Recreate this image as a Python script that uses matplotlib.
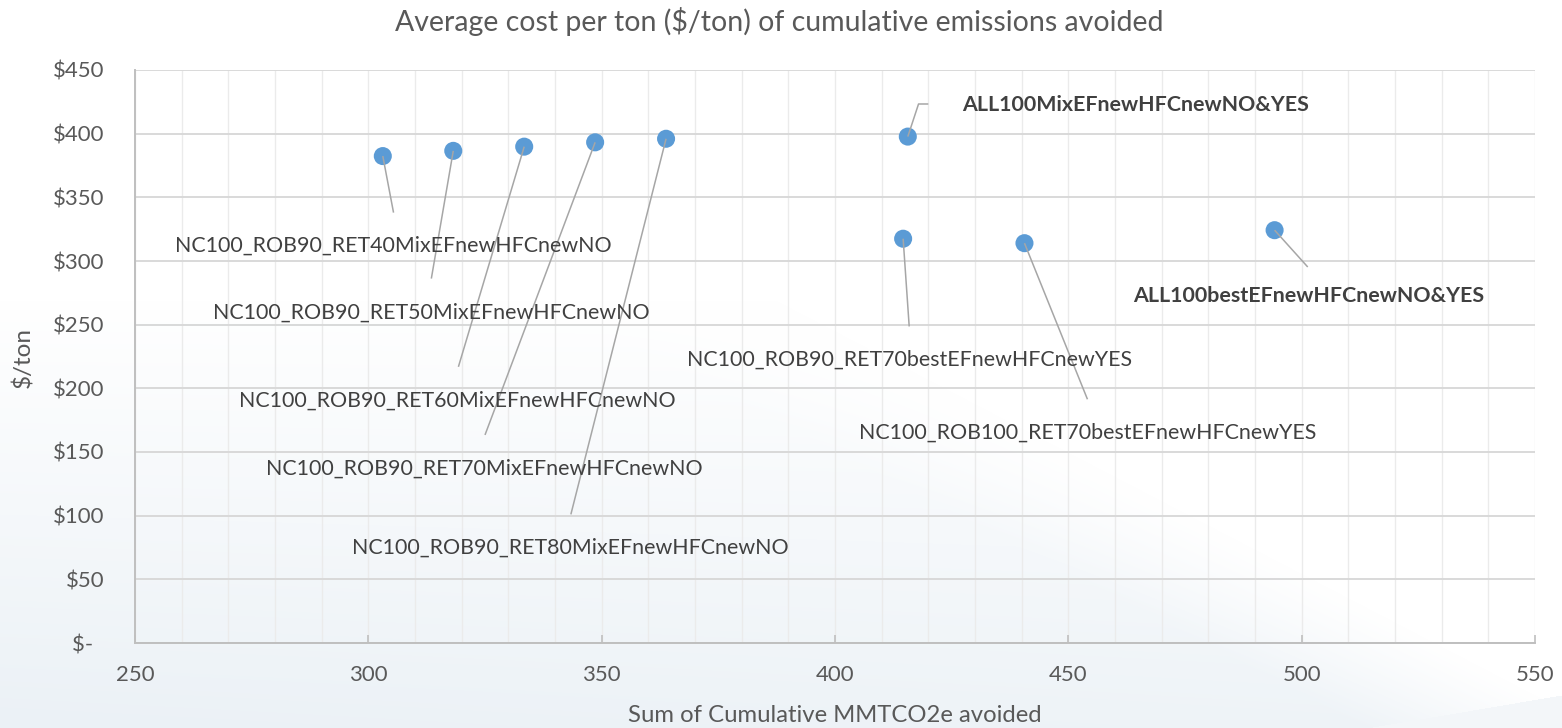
import numpy as np
import matplotlib
matplotlib.use("Agg")
import matplotlib.pyplot as plt
from matplotlib.ticker import MultipleLocator, FixedLocator, FixedFormatter

plt.rcParams['font.family'] = ['Lato', 'DejaVu Sans']

# ---------------- data ----------------
scenarios = [
    "NC100_ROB90_RET40MixEFnewHFCnewNO",
    "NC100_ROB90_RET50MixEFnewHFCnewNO",
    "NC100_ROB90_RET60MixEFnewHFCnewNO",
    "NC100_ROB90_RET70MixEFnewHFCnewNO",
    "NC100_ROB90_RET80MixEFnewHFCnewNO",
    "ALL100MixEFnewHFCnewNO&YES",
    "NC100_ROB90_RET70bestEFnewHFCnewYES",
    "NC100_ROB100_RET70bestEFnewHFCnewYES",
    "ALL100bestEFnewHFCnewNO&YES",
]
emissions_avoided = [303.1, 318.2, 333.4, 348.6, 363.8, 415.6, 414.6, 440.6, 494.2]
cost_per_ton = [382.4, 386.5, 389.8, 393.2, 396.0, 397.7, 317.5, 314.0, 324.2]
bold_label = [False, False, False, False, False, True, False, False, True]

x_ticks = [250, 300, 350, 400, 450, 500, 550]
y_ticks = [0, 50, 100, 150, 200, 250, 300, 350, 400, 450]
y_tick_labels = ["$-  ", "$50", "$100", "$150", "$200", "$250", "$300", "$350", "$400", "$450"]

title = "Average cost per ton ($/ton) of cumulative emissions avoided"
x_title = "Sum of Cumulative MMTCO2e avoided"
y_title = "$/ton"

# ---------------- label layout (data coordinates) ----------------
label_pos = [(305.3, 311.8), (313.4, 259.6), (319.1, 190.7), (324.9, 136.7), (343.2, 75.0),
             (464.3, 422.6), (416.0, 222.4), (454.2, 165.2), (501.5, 272.8)]
leader_end = [(305.4, 338.0), (313.5, 286.2), (319.3, 216.9), (325.0, 163.4), (343.4, 101.0),
              (420.0, 423.3), (415.9, 248.6), (454.1, 191.4), (501.3, 295.3)]
leader_knee = {5: (417.9, 423.3)}

W, H = 1562, 728
fig = plt.figure(figsize=(W / 100, H / 100), dpi=100)
fig.patch.set_facecolor('white')

# ---------------- background (slide style gradient) ----------------
yy, xx = np.mgrid[0:H, 0:W].astype(float)
t = np.clip((yy - 300) / (H - 300), 0, 1)
t *= (1 - 0.2 * xx / W)
d = yy - (520 + 0.52 * (xx - 968))
t *= np.clip(1 + d / 120, 0, 1)
corner = (yy > 728 - 0.17 * (xx - 1367)) & (xx > 1367)
t = np.where(corner, 0.6, t)
tint = np.array([235, 241, 246]) / 255.0
img = (1 - t[..., None]) * 1.0 + t[..., None] * tint
bg = fig.add_axes([0, 0, 1, 1], zorder=-10)
bg.imshow(img, aspect='auto', extent=[0, W, H, 0], interpolation='bilinear')
bg.axis('off')

# ---------------- main axes ----------------
ax = fig.add_axes([135 / W, 1 - 643 / H, 1400 / W, (643 - 70) / H])
ax.set_facecolor('none')
ax.set_xlim(250, 550)
ax.set_ylim(0, 450)

ax.xaxis.set_major_locator(FixedLocator(x_ticks))
ax.xaxis.set_minor_locator(MultipleLocator(10))
ax.yaxis.set_major_locator(FixedLocator(y_ticks))
ax.yaxis.set_major_formatter(FixedFormatter(y_tick_labels))

ax.grid(which='minor', axis='x', color='#ebebeb', lw=1.0, zorder=0)
ax.grid(which='major', axis='x', color='#ebebeb', lw=1.0, zorder=0)
ax.grid(which='major', axis='y', color='#d9d9d9', lw=1.4, zorder=0)
ax.set_axisbelow(True)

for s in ['top', 'right']:
    ax.spines[s].set_visible(False)
for s in ['left', 'bottom']:
    ax.spines[s].set_color('#bfbfbf')
    ax.spines[s].set_linewidth(1.4)

ax.tick_params(axis='x', which='major', direction='in', length=6, width=1.2, color='#bfbfbf',
               labelsize=16, labelcolor='#595959', pad=15.5)
ax.tick_params(axis='x', which='minor', length=0)
ax.tick_params(axis='y', which='both', length=0, labelsize=16, labelcolor='#595959', pad=22)

# leader lines
for i in range(len(scenarios)):
    px, py = emissions_avoided[i], cost_per_ton[i]
    ex, ey = leader_end[i]
    if i in leader_knee:
        kx, ky = leader_knee[i]
        xs, ys = [px, kx, ex], [py, ky, ey]
    else:
        xs, ys = [px, ex], [py, ey]
    ax.plot(xs, ys, color='#a6a6a6', lw=1.1, zorder=4, solid_capstyle='butt')

ax.scatter(emissions_avoided, cost_per_ton, s=13 ** 2, color='#5b9bd5', edgecolors='none', zorder=3)

for i, name in enumerate(scenarios):
    lx, ly = label_pos[i]
    ax.text(lx, ly, name, ha='center', va='center', fontsize=15.4,
            fontweight='bold' if bold_label[i] else 'normal', color='#404040', zorder=5)

fig.text(779 / W, 1 - 22 / H, title, ha='center', va='center', fontsize=20.5, color='#595959')
fig.text(835 / W, 1 - 715 / H, x_title, ha='center', va='center', fontsize=17.2, color='#595959')
fig.text(23 / W, 1 - 357 / H, y_title, ha='center', va='center', fontsize=17.5, color='#595959', rotation=90)

fig.savefig('out.png', dpi=100)
